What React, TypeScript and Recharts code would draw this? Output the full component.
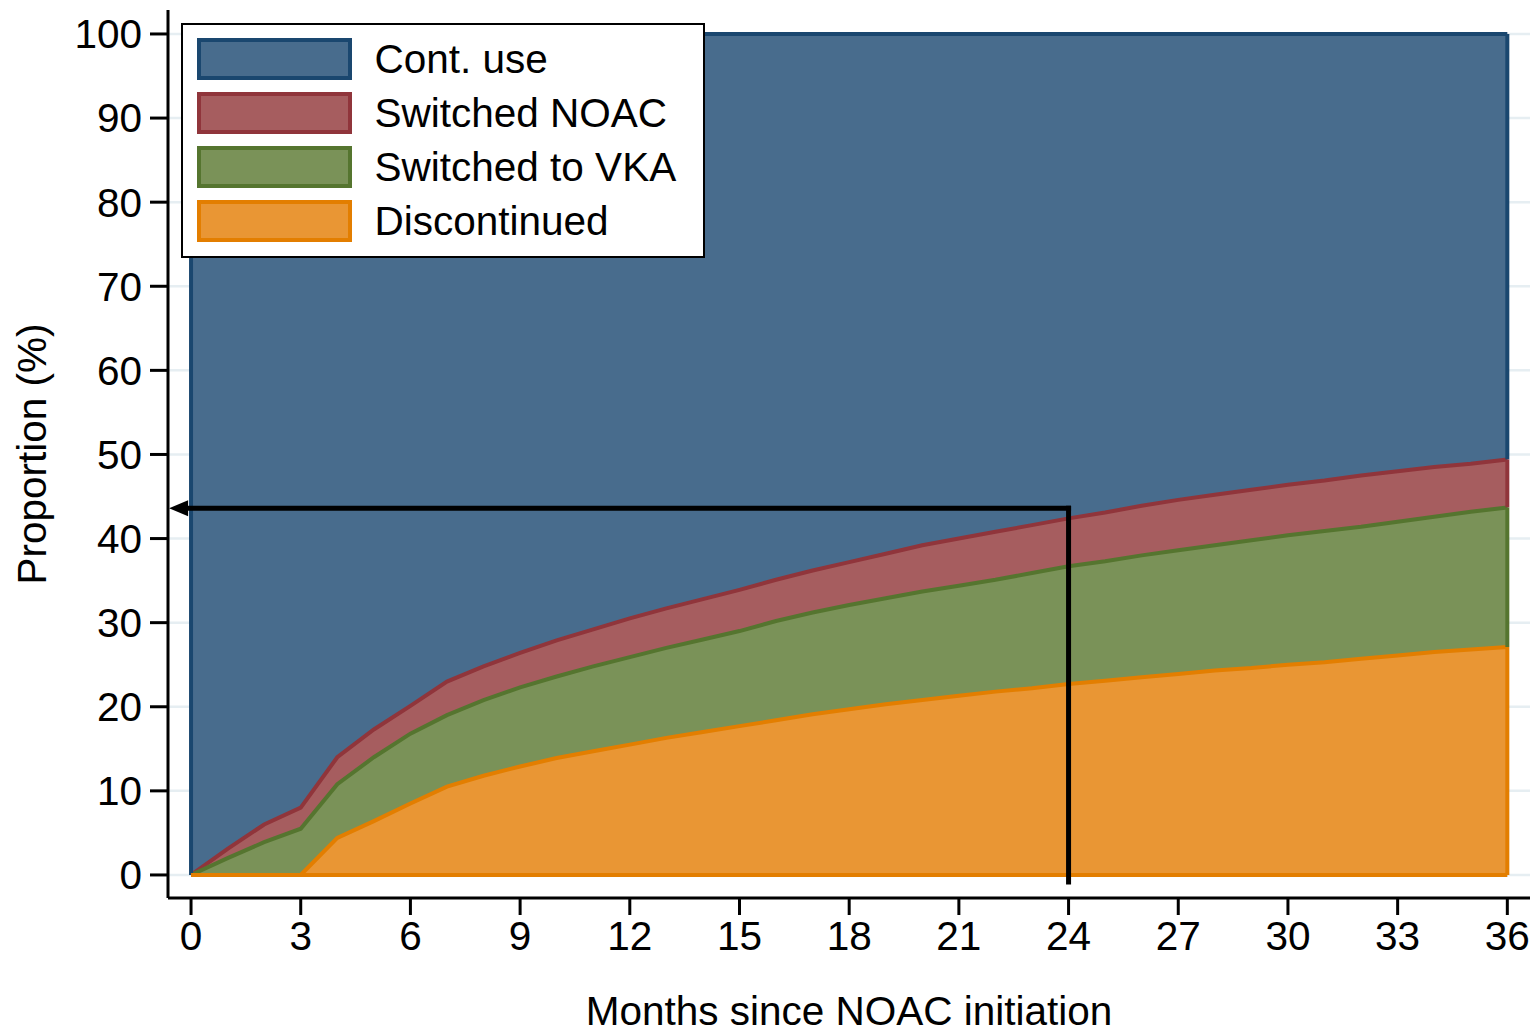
import React from 'react';
import {
  ComposedChart,
  Area,
  XAxis,
  YAxis,
  CartesianGrid,
  Legend,
  ReferenceLine,
} from 'recharts';

// ---------- data ----------
const months = [
  0, 1, 2, 3, 4, 5, 6, 7, 8, 9, 10, 11, 12, 13, 14, 15, 16, 17, 18, 19, 20, 21, 22, 23, 24, 25,
  26, 27, 28, 29, 30, 31, 32, 33, 34, 35, 36,
];
const discontinued = [
  0, 0, 0, 0, 4.4, 6.4, 8.5, 10.5, 11.8, 12.9, 13.9, 14.7, 15.5, 16.3, 17.0, 17.7, 18.4, 19.1,
  19.7, 20.3, 20.8, 21.3, 21.8, 22.2, 22.7, 23.1, 23.5, 23.9, 24.3, 24.6, 25.0, 25.3, 25.7, 26.1,
  26.5, 26.8, 27.1,
];
const switchedVKA = [
  0, 2.0, 3.9, 5.5, 6.4, 7.6, 8.3, 8.5, 9.0, 9.4, 9.7, 10.1, 10.4, 10.7, 11.0, 11.3, 11.8, 12.1,
  12.4, 12.6, 12.9, 13.1, 13.3, 13.7, 14.0, 14.2, 14.5, 14.7, 14.9, 15.2, 15.4, 15.6, 15.7, 15.9,
  16.1, 16.4, 16.6,
];
const switchedNOAC = [
  0, 1.1, 2.1, 2.5, 3.2, 3.3, 3.3, 4.0, 4.0, 4.1, 4.3, 4.4, 4.6, 4.7, 4.8, 4.9, 4.9, 5.0, 5.1, 5.3,
  5.5, 5.6, 5.7, 5.7, 5.7, 5.8, 5.9, 6.0, 6.0, 6.0, 6.0, 6.0, 6.1, 6.0, 5.9, 5.7, 5.7,
];
const contUse = [
  100, 96.9, 94.0, 92.0, 86.0, 82.7, 79.9, 77.0, 75.2, 73.6, 72.1, 70.8, 69.5, 68.3, 67.2, 66.1,
  64.9, 63.8, 62.8, 61.8, 60.8, 60.0, 59.2, 58.4, 57.6, 56.9, 56.1, 55.4, 54.8, 54.2, 53.6, 53.1,
  52.5, 52.0, 51.5, 51.1, 50.6,
];
const xTicks = [0, 3, 6, 9, 12, 15, 18, 21, 24, 27, 30, 33, 36];
const yTicks = [0, 10, 20, 30, 40, 50, 60, 70, 80, 90, 100];
const legendNames = ['Cont. use', 'Switched NOAC', 'Switched to VKA', 'Discontinued'];
const annotationMonth = 24;
const annotationLevel = 43.6;

// ---------- styles ----------
const FONT = "'Liberation Sans', Arial, Helvetica, sans-serif";
const FS = 40.5;
const COLORS = {
  cont: { fill: '#486c8d', stroke: '#1a476f' },
  noac: { fill: '#a65d5f', stroke: '#90353b' },
  vka: { fill: '#7a9258', stroke: '#55752f' },
  disc: { fill: '#e99634', stroke: '#e37e00' },
};
const legendColors = [COLORS.cont, COLORS.noac, COLORS.vka, COLORS.disc];

// cumulative table (boundaries of each band)
const data = months.map((m, i) => {
  const disc = discontinued[i];
  const vka = disc + switchedVKA[i];
  const noac = vka + switchedNOAC[i];
  const cont = noac + contUse[i];
  return { month: m, disc, vka, noac, cont };
});
const last = data[data.length - 1];
const first = data[0];

const renderLegend = () => (
  <div
    style={{
      width: 524,
      height: 235,
      boxSizing: 'border-box',
      border: '2.5px solid #000',
      background: '#fff',
      position: 'relative',
      fontFamily: FONT,
      fontSize: FS,
      color: '#000',
    }}
  >
    {legendNames.map((name, i) => (
      <div
        key={name}
        style={{
          position: 'absolute',
          left: 13.5,
          top: 12.5 + i * 54.3,
          display: 'flex',
          alignItems: 'center',
          height: 42,
        }}
      >
        <div
          style={{
            width: 155,
            height: 42,
            boxSizing: 'border-box',
            border: `4px solid ${legendColors[i].stroke}`,
            background: legendColors[i].fill,
          }}
        />
        <span style={{ marginLeft: 23, lineHeight: '42px', whiteSpace: 'nowrap' }}>{name}</span>
      </div>
    ))}
  </div>
);

const ArrowShape = (props: any) => {
  const { x1, y1, x2, y2 } = props;
  const left = Math.min(x1, x2);
  const right = Math.max(x1, x2);
  const y = (y1 + y2) / 2;
  const headLen = 19;
  const headHalf = 8;
  return (
    <g>
      <line x1={left + headLen - 2} y1={y} x2={right} y2={y} stroke="#000" strokeWidth={5} strokeLinecap="square" />
      <polygon
        points={`${left},${y} ${left + headLen},${y - headHalf} ${left + headLen},${y + headHalf}`}
        fill="#000"
      />
    </g>
  );
};

const YTitle = (props: any) => {
  const vb = props.viewBox || { y: 10, height: 888 };
  const cy = vb.y + vb.height / 2;
  const bx = 46;
  return (
    <text
      x={bx}
      y={cy}
      transform={`rotate(-90 ${bx} ${cy})`}
      textAnchor="middle"
      fontFamily={FONT}
      fontSize={FS}
      fill="#000"
    >
      Proportion (%)
    </text>
  );
};

const XTitle = (props: any) => {
  const vb = props.viewBox || { x: 168, width: 1362 };
  const cx = vb.x + vb.width / 2;
  return (
    <text x={cx} y={1025} textAnchor="middle" fontFamily={FONT} fontSize={FS} fill="#000">
      Months since NOAC initiation
    </text>
  );
};

export default function App() {
  const tickStyle = { fontFamily: FONT, fontSize: FS, fill: '#000' };
  return (
    <div style={{ position: 'absolute', left: 0, top: 0, background: '#fff' }}>
      <ComposedChart
        width={1535}
        height={1035}
        data={data}
        margin={{ top: 10, right: 5, bottom: 0, left: 0 }}
      >
        <CartesianGrid
          horizontal
          vertical={false}
          horizontalValues={yTicks}
          stroke="#e6eef2"
          strokeWidth={2.5}
        />
        <XAxis
          type="number"
          dataKey="month"
          domain={[-0.63, 36.62]}
          ticks={xTicks}
          interval={0}
          height={137}
          axisLine={{ stroke: '#000', strokeWidth: 3 }}
          tickLine={{ stroke: '#000', strokeWidth: 3 }}
          tickSize={17}
          tickMargin={6}
          tick={tickStyle}
          label={<XTitle />}
        />
        <YAxis
          type="number"
          domain={[-2.74, 102.85]}
          ticks={yTicks}
          interval={0}
          width={168}
          axisLine={{ stroke: '#000', strokeWidth: 3 }}
          tickLine={{ stroke: '#000', strokeWidth: 3 }}
          tickSize={18}
          tickMargin={8}
          tick={tickStyle}
          label={<YTitle />}
        />
        <Area
          type="linear"
          dataKey="cont"
          name={legendNames[0]}
          fill={COLORS.cont.fill}
          fillOpacity={1}
          stroke={COLORS.cont.stroke}
          strokeWidth={4}
          dot={false}
          activeDot={false}
          isAnimationActive={false}
        />
        <Area
          type="linear"
          dataKey="noac"
          name={legendNames[1]}
          fill={COLORS.noac.fill}
          fillOpacity={1}
          stroke={COLORS.noac.stroke}
          strokeWidth={4}
          dot={false}
          activeDot={false}
          isAnimationActive={false}
        />
        <Area
          type="linear"
          dataKey="vka"
          name={legendNames[2]}
          fill={COLORS.vka.fill}
          fillOpacity={1}
          stroke={COLORS.vka.stroke}
          strokeWidth={4}
          dot={false}
          activeDot={false}
          isAnimationActive={false}
        />
        <Area
          type="linear"
          dataKey="disc"
          name={legendNames[3]}
          fill={COLORS.disc.fill}
          fillOpacity={1}
          stroke={COLORS.disc.stroke}
          strokeWidth={4}
          dot={false}
          activeDot={false}
          isAnimationActive={false}
        />
        {/* band outlines on the left/right/bottom edges */}
        <ReferenceLine
          segment={[
            { x: first.month, y: 0 },
            { x: first.month, y: first.cont },
          ]}
          stroke={COLORS.cont.stroke}
          strokeWidth={4}
        />
        <ReferenceLine
          segment={[
            { x: last.month, y: last.noac },
            { x: last.month, y: last.cont },
          ]}
          stroke={COLORS.cont.stroke}
          strokeWidth={4}
        />
        <ReferenceLine
          segment={[
            { x: last.month, y: last.vka },
            { x: last.month, y: last.noac },
          ]}
          stroke={COLORS.noac.stroke}
          strokeWidth={4}
        />
        <ReferenceLine
          segment={[
            { x: last.month, y: last.disc },
            { x: last.month, y: last.vka },
          ]}
          stroke={COLORS.vka.stroke}
          strokeWidth={4}
        />
        <ReferenceLine
          segment={[
            { x: last.month, y: 0 },
            { x: last.month, y: last.disc },
          ]}
          stroke={COLORS.disc.stroke}
          strokeWidth={4}
        />
        <ReferenceLine
          segment={[
            { x: first.month, y: 0 },
            { x: last.month, y: 0 },
          ]}
          stroke={COLORS.disc.stroke}
          strokeWidth={4}
        />
        {/* annotation */}
        <ReferenceLine
          segment={[
            { x: annotationMonth, y: annotationLevel },
            { x: annotationMonth, y: -0.85 },
          ]}
          stroke="#000"
          strokeWidth={5}
          strokeLinecap="square"
        />
        <ReferenceLine
          segment={[
            { x: -0.6, y: annotationLevel },
            { x: annotationMonth, y: annotationLevel },
          ]}
          shape={<ArrowShape />}
        />
        <Legend
          layout="vertical"
          align="center"
          verticalAlign="middle"
          wrapperStyle={{ left: 181, top: 23, width: 524, height: 235 }}
          content={renderLegend}
        />
      </ComposedChart>
    </div>
  );
}
